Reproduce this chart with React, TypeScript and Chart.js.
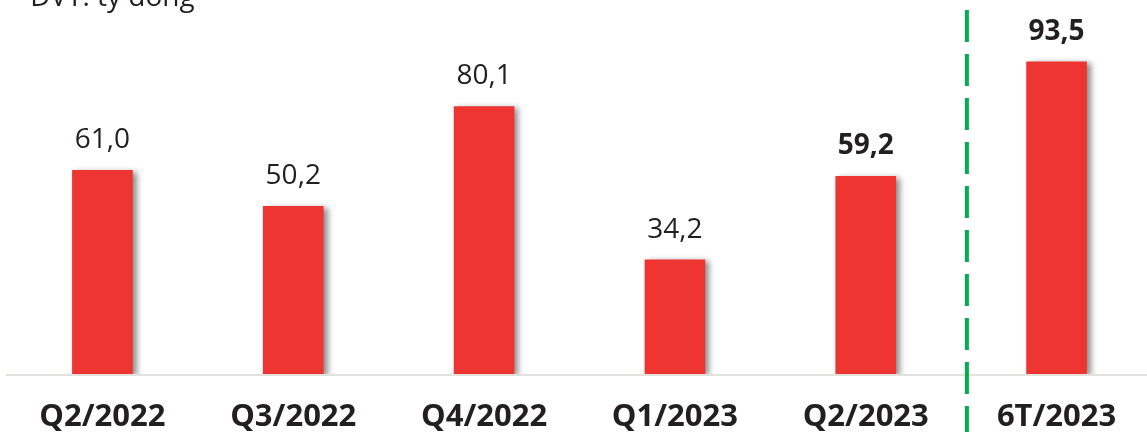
import React, { useEffect, useRef } from "react";
import { Chart, registerables } from "chart.js";

Chart.register(...registerables);

const categories = ["Q2/2022", "Q3/2022", "Q4/2022", "Q1/2023", "Q2/2023", "6T/2023"];
const values = [61.0, 50.2, 80.1, 34.2, 59.2, 93.5];
const valueLabels = ["61,0", "50,2", "80,1", "34,2", "59,2", "93,5"];
const boldLabels = [false, false, false, false, true, true];
const unitLabel = "ĐVT: tỷ đồng";

const FONT = "'Open Sans', 'Noto Sans', sans-serif";
const TEXT = "#231f20";
const BAR = "#ee3531";
const GREEN = "#00b050";

export default function App() {
  const ref = useRef<HTMLCanvasElement | null>(null);

  useEffect(() => {
    document.body.style.margin = "0";
    document.body.style.overflow = "hidden";
    document.documentElement.style.overflow = "hidden";
    const canvas = ref.current;
    if (!canvas) return;

    const shadowPlugin = {
      id: "barShadow",
      beforeDatasetsDraw(chart: any) {
        const ctx = chart.ctx;
        ctx.save();
        ctx.shadowColor = "rgba(0,0,0,0.45)";
        ctx.shadowBlur = 6;
        ctx.shadowOffsetX = 4;
        ctx.shadowOffsetY = 2;
      },
      afterDatasetsDraw(chart: any) {
        chart.ctx.restore();
      },
    };

    const decorPlugin = {
      id: "decor",
      beforeDatasetsDraw(chart: any) {
        const ctx = chart.ctx;
        const area = chart.chartArea;
        ctx.save();
        ctx.strokeStyle = "#e2e2dc";
        ctx.lineWidth = 2;
        ctx.beginPath();
        ctx.moveTo(6, area.bottom + 1);
        ctx.lineTo(chart.width, area.bottom + 1);
        ctx.stroke();
        ctx.restore();
      },
      afterDraw(chart: any) {
        const ctx = chart.ctx;
        const meta = chart.getDatasetMeta(0);
        ctx.save();
        ctx.textAlign = "center";
        ctx.textBaseline = "middle";
        ctx.fillStyle = TEXT;
        meta.data.forEach((bar: any, i: number) => {
          ctx.font = `${boldLabels[i] ? "bold " : ""}28px ${FONT}`;
          ctx.fillText(valueLabels[i], bar.x, bar.y - 30);
        });
        const x4 = meta.data[4].x;
        const x5 = meta.data[5].x;
        const sx = x4 + (x5 - x4) * 0.53;
        ctx.strokeStyle = GREEN;
        ctx.lineWidth = 4;
        ctx.setLineDash([32, 12]);
        ctx.beginPath();
        ctx.moveTo(sx, 10);
        ctx.lineTo(sx, chart.height);
        ctx.stroke();
        ctx.setLineDash([]);
        ctx.textAlign = "left";
        ctx.textBaseline = "alphabetic";
        ctx.font = `28px ${FONT}`;
        ctx.fillText(unitLabel, 30, 6);
        ctx.restore();
      },
    };

    const chart = new Chart(canvas, {
      type: "bar",
      data: {
        labels: categories,
        datasets: [
          {
            data: values,
            backgroundColor: BAR,
            borderWidth: 0,
            barThickness: 60,
          },
        ],
      },
      options: {
        responsive: false,
        maintainAspectRatio: false,
        animation: false,
        layout: { padding: { left: 7, right: 0, top: 0, bottom: 0 } },
        plugins: { legend: { display: false }, tooltip: { enabled: false } },
        scales: {
          x: {
            grid: { display: false },
            border: { display: false },
            afterFit(scale: any) {
              scale.height = 58;
            },
            ticks: {
              color: TEXT,
              padding: 17,
              maxRotation: 0,
              font: { family: FONT, size: 31, weight: "bold" },
            },
          },
          y: { display: false, min: 0, max: 112 },
        },
      },
      plugins: [decorPlugin, shadowPlugin],
    });
    return () => chart.destroy();
  }, []);

  return (
    <div style={{ width: 1152, height: 432 }}>
      <canvas ref={ref} width={1152} height={432} style={{ display: "block" }} />
    </div>
  );
}
